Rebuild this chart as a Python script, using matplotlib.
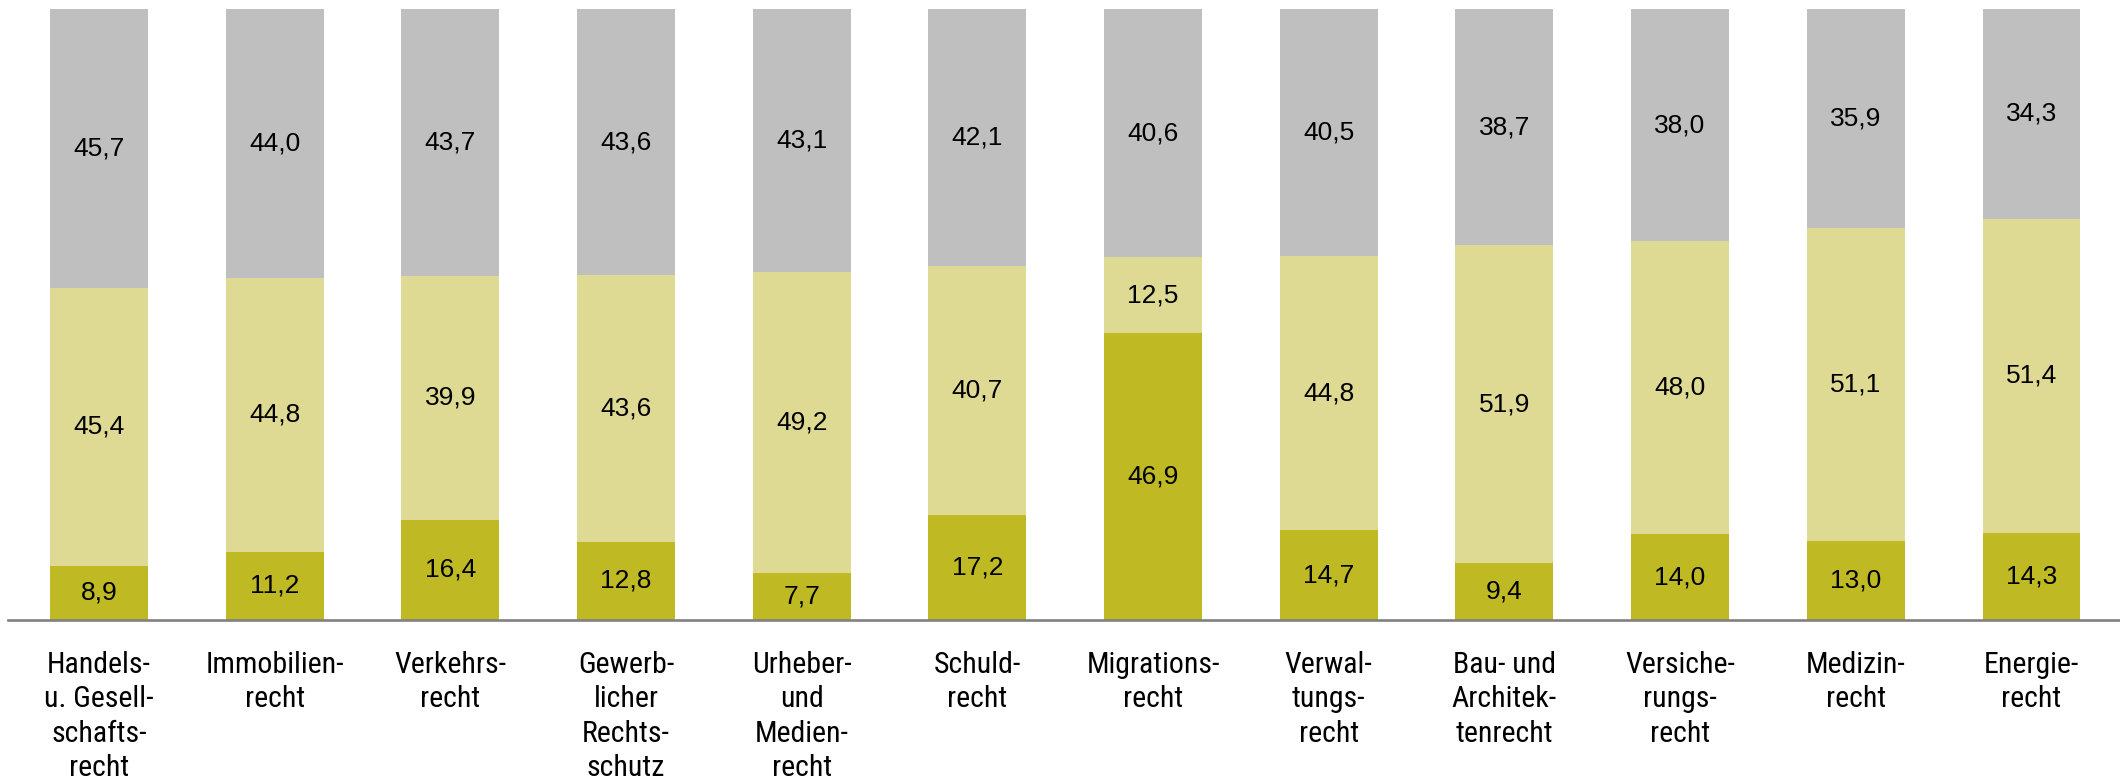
import matplotlib
matplotlib.use("Agg")
import matplotlib.pyplot as plt
import numpy as np

categories = ["Handels-\nu. Gesell-\nschafts-\nrecht", "Immobilien-\nrecht", "Verkehrs-\nrecht",
              "Gewerb-\nlicher\nRechts-\nschutz", "Urheber-\nund\nMedien-\nrecht", "Schuld-\nrecht",
              "Migrations-\nrecht", "Verwal-\ntungs-\nrecht", "Bau- und\nArchitek-\ntenrecht",
              "Versiche-\nrungs-\nrecht", "Medizin-\nrecht", "Energie-\nrecht"]
dark = [8.9, 11.2, 16.4, 12.8, 7.7, 17.2, 46.9, 14.7, 9.4, 14.0, 13.0, 14.3]
light = [45.4, 44.8, 39.9, 43.6, 49.2, 40.7, 12.5, 44.8, 51.9, 48.0, 51.1, 51.4]
gray = [45.7, 44.0, 43.7, 43.6, 43.1, 42.1, 40.6, 40.5, 38.7, 38.0, 35.9, 34.3]

W, H = 2120, 780
fig = plt.figure(figsize=(W / 100, H / 100), dpi=100)
ax = fig.add_axes([8 / W, (H - 620) / H, (W - 8) / W, (620 - 9) / H])

x = np.arange(len(categories))
bw = 0.557
c_dark, c_light, c_gray = "#BFB923", "#DEDA94", "#BFBFBF"
d = np.array(dark); l = np.array(light); g = np.array(gray)
ax.bar(x, d, bw, color=c_dark, edgecolor="none")
ax.bar(x, l, bw, bottom=d, color=c_light, edgecolor="none")
ax.bar(x, g, bw, bottom=d + l, color=c_gray, edgecolor="none")

def fmt(v):
    return f"{v:.1f}".replace(".", ",")

for i in range(len(x)):
    for bottom, val in ((0, d[i]), (d[i], l[i]), (d[i] + l[i], g[i])):
        ax.text(x[i], bottom + val / 2, fmt(val), ha="center", va="center",
                fontsize=19, family="Liberation Sans", color="black")

ax.set_xlim(-0.518, len(x) - 1 + 0.504)
ax.set_ylim(0, 100)
for s in ("top", "right", "left"):
    ax.spines[s].set_visible(False)
ax.spines["bottom"].set_color("#808080")
ax.spines["bottom"].set_linewidth(1.9)
ax.set_yticks([])
ax.set_xticks(x)
ax.set_xticklabels(categories, family="Roboto Condensed", fontsize=21.5, linespacing=1.3)
ax.tick_params(axis="x", length=0, pad=22)

fig.savefig("out.png", dpi=100)
